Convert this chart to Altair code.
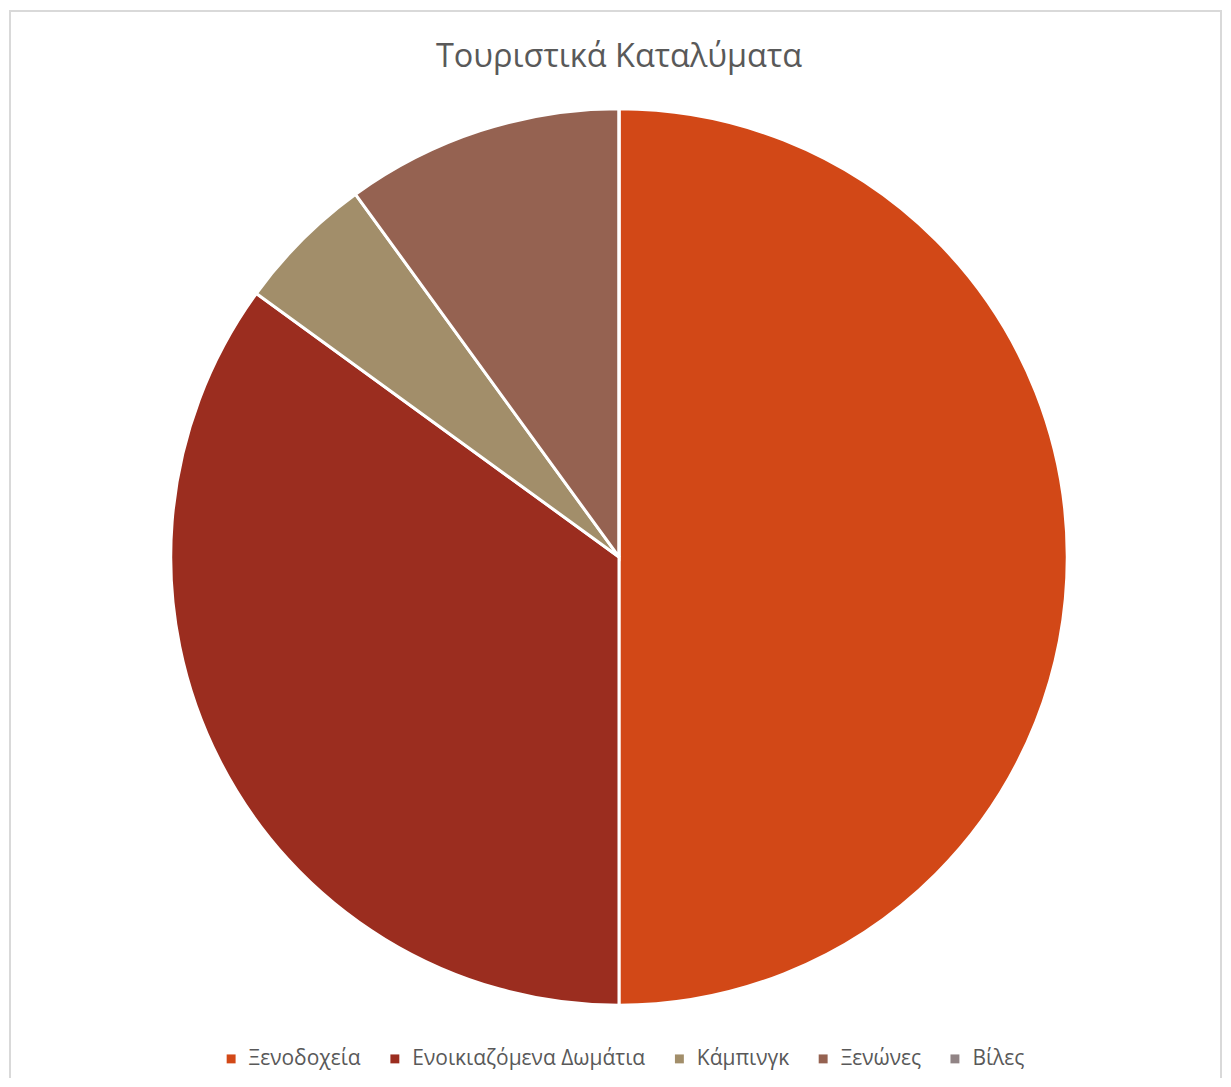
import altair as alt
import pandas as pd

categories = ["Ξενοδοχεία", "Ενοικιαζόμενα Δωμάτια", "Κάμπινγκ", "Ξενώνες", "Βίλες"]
values = [50, 35, 5, 10, 0]
colors = ["#D24817", "#9B2D1F", "#A28E6A", "#956251", "#918485"]
title_text = "Τουριστικά Καταλύματα"

df = pd.DataFrame({"cat": categories, "val": values, "order": list(range(len(categories)))})

W, H = 1215, 1070
CX, CY = 611, 548

pie = alt.Chart(df).mark_arc(outerRadius=449, stroke="white", strokeWidth=3).encode(
    theta=alt.Theta("val:Q", stack=True),
    color=alt.Color(
        "cat:N",
        scale=alt.Scale(domain=categories, range=colors),
        sort=categories,
        legend=alt.Legend(
            title=None,
            orient="none",
            direction="horizontal",
            legendX=212,
            legendY=1040,
            symbolType="square",
            symbolSize=80,
            symbolStrokeWidth=0,
            labelFont="Open Sans",
            labelFontSize=21,
            labelColor="#595959",
            labelLimit=0,
            columnPadding=23,
            labelOffset=7,
        ),
    ),
    order=alt.Order("order:Q"),
    x=alt.value(CX),
    y=alt.value(CY),
)

title = alt.Chart(pd.DataFrame({"t": [title_text]})).mark_text(
    font="Open Sans", fontSize=32.5, color="#595959", baseline="middle", align="center"
).encode(text="t:N", x=alt.value(CX), y=alt.value(47))

border_top = alt.Chart(pd.DataFrame({"a": [0]})).mark_rule(color="#D9D9D9", strokeWidth=2).encode(
    x=alt.value(0), x2=alt.value(W), y=alt.value(1)
)
border_left = alt.Chart(pd.DataFrame({"a": [0]})).mark_rule(color="#D9D9D9", strokeWidth=2).encode(
    x=alt.value(1), y=alt.value(0), y2=alt.value(H)
)
border_right = alt.Chart(pd.DataFrame({"a": [0]})).mark_rule(color="#D9D9D9", strokeWidth=2).encode(
    x=alt.value(W - 1), y=alt.value(0), y2=alt.value(H)
)

chart = alt.layer(pie, title, border_top, border_left, border_right).properties(
    width=W, height=H, padding=0
).configure_view(stroke=None)

chart.save("out.html", embed_options={"renderer": "svg", "actions": False})
